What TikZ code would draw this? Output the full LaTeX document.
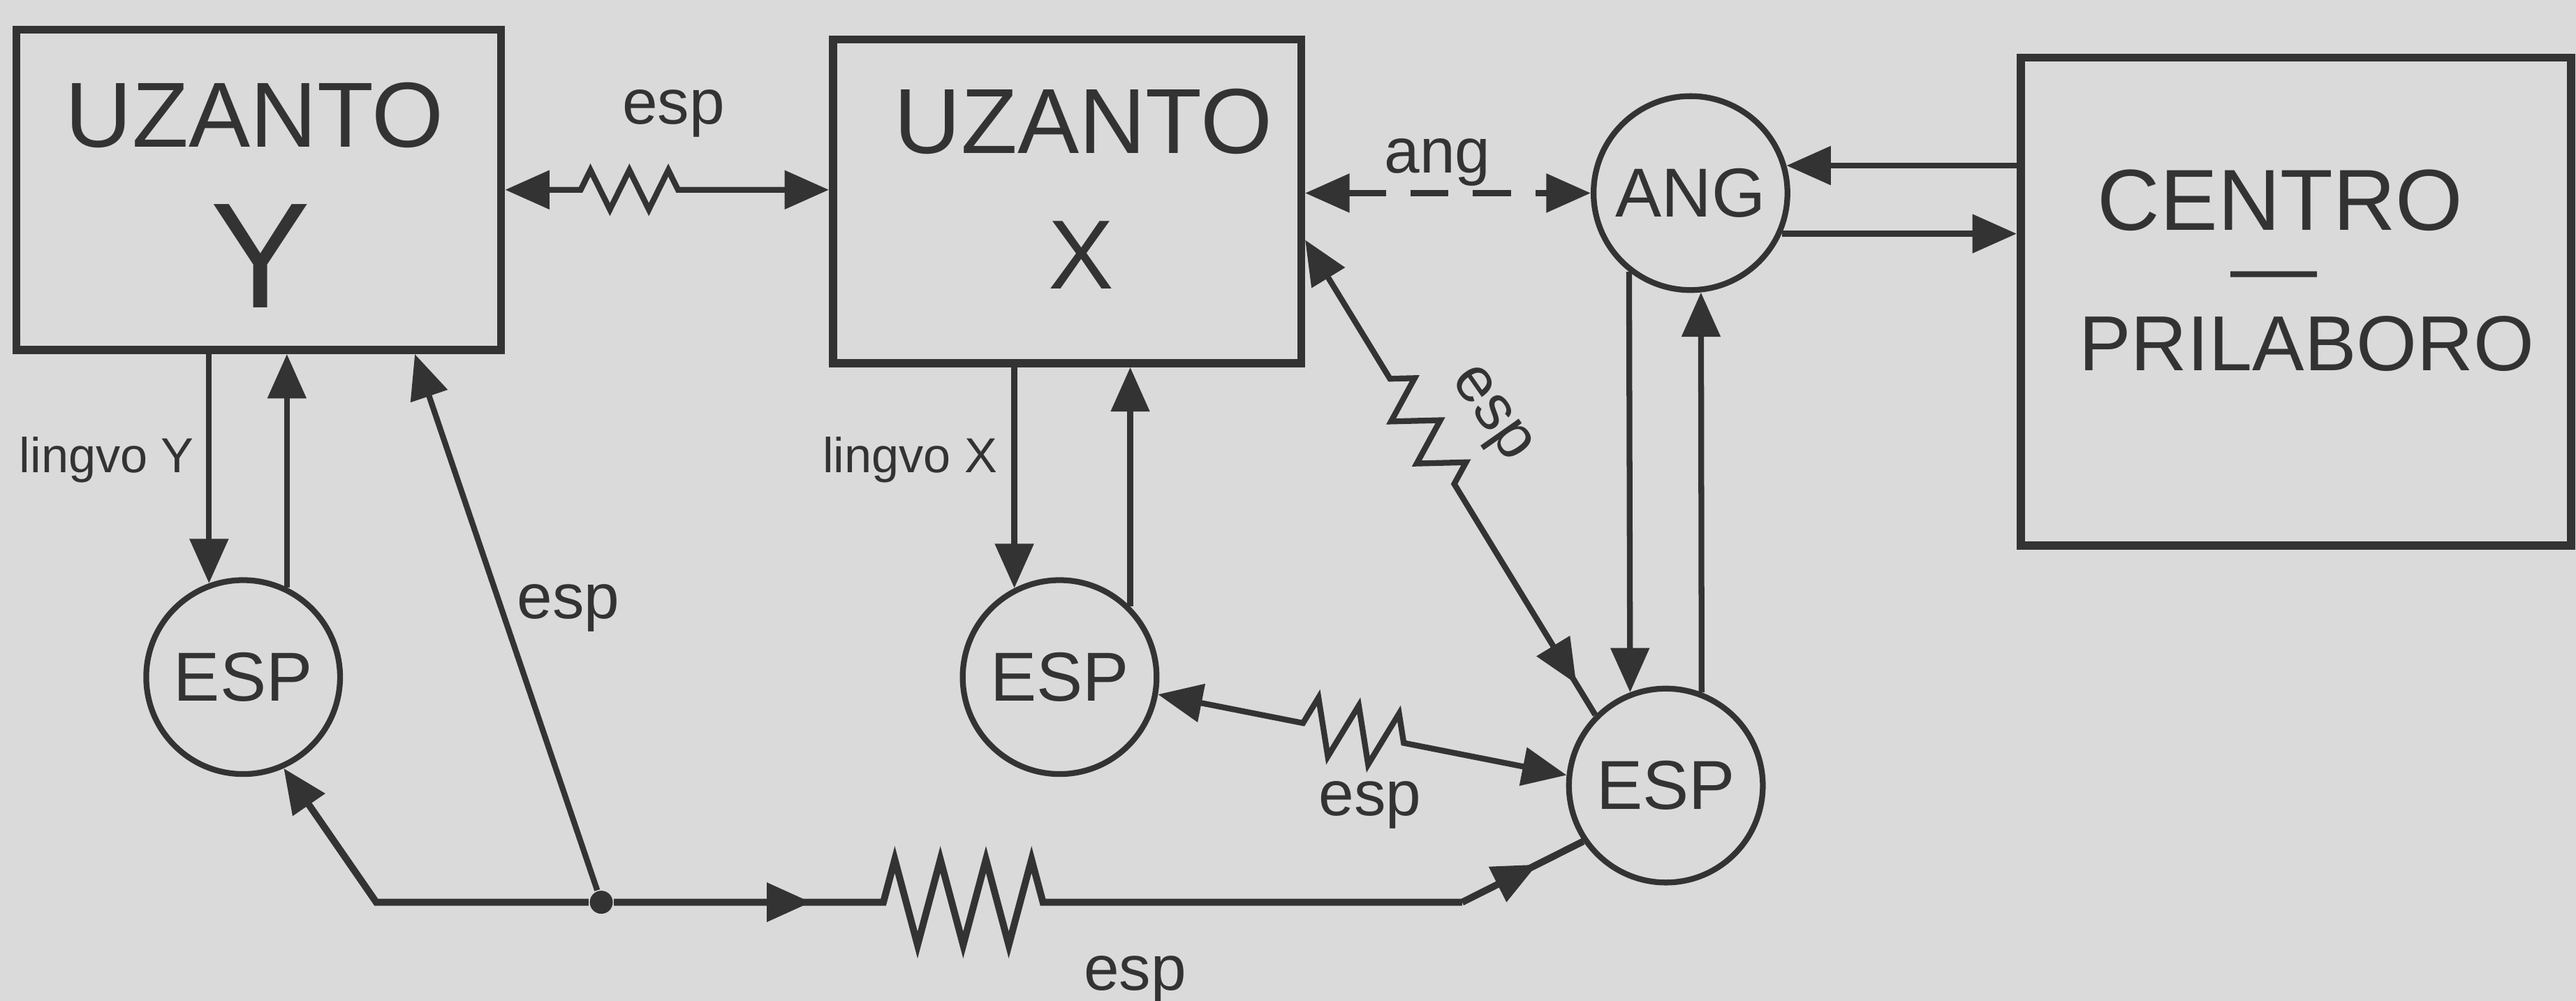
\documentclass[tikz,border=0pt]{standalone}
\usepackage{fontspec}
\setmainfont{Liberation Sans}
\usetikzlibrary{arrows.meta, positioning, decorations.pathmorphing, decorations.markings}

\definecolor{ink}{HTML}{333333}
\definecolor{paper}{HTML}{DADADA}

\begin{document}
\begin{tikzpicture}[
  color=ink,
  >={Triangle[length=2.7mm, width=2.3mm]},
  box/.style={rectangle, draw, line width=1.4pt, inner sep=0pt},
  ring/.style={circle, draw, line width=1pt, minimum size=1.18cm, inner sep=0pt,
               font=\fontsize{12}{14}\selectfont},
  big/.style={font=\fontsize{16}{19}\selectfont, inner sep=1pt},
  tag/.style={font=\fontsize{11}{13}\selectfont, inner sep=1pt},
  dot/.style={circle, fill, inner sep=0pt, minimum size=0.14cm},
  link/.style={line width=1pt},
  flowmark/.style={postaction={decorate, decoration={markings,
                   pre length=0pt, post length=0pt,
                   mark=at position #1 with {\arrow{>}}}}},
  resist/.style args={#1/#2/#3/#4}{decorate, decoration={zigzag,
                   pre length=#1, post length=#2, segment length=#3, amplitude=#4}}
]
% paper
\fill[paper] (0,0) rectangle (15.68,6.09);
\useasboundingbox (0,0) rectangle (15.68,6.09);

% Blocks
\node[box, minimum width=2.95cm, minimum height=1.95cm] (usery) at (1.575,4.935) {};
\node[box, minimum width=2.85cm, minimum height=1.97cm] (userx) at (6.495,4.865) {};
\node[box, minimum width=3.35cm, minimum height=2.97cm] (centro) at (13.975,4.255) {};

\node[big] (usery-name) at (1.55,5.39) {UZANTO};
\node[font=\fontsize{26}{30}\selectfont, inner sep=1pt] (usery-sym) at (1.585,4.53) {Y};
\node[big] (userx-name) at (6.595,5.35) {UZANTO};
\node[font=\fontsize{17}{20}\selectfont, inner sep=1pt] (userx-sym) at (6.58,4.54) {X};
\node[font=\fontsize{15}{18}\selectfont, inner sep=1pt] (centro-a) at (13.88,4.87) {CENTRO};
\node[font=\fontsize{15}{18}\selectfont, inner sep=0pt] (centro-dash) at (13.84,4.36) {\textemdash};
\node[font=\fontsize{13.5}{16}\selectfont, inner sep=1pt] (centro-b) at (14.04,4.00) {PRILABORO};

% Circles
\node[ring] (ang) at (10.29,4.915) {ANG};
\node[ring] (espy) at (1.48,1.97) {ESP};
\node[ring] (espx) at (6.45,1.97) {ESP};
\node[ring] (espc) at (10.14,1.31) {ESP};
\node[dot] (j) at (3.66,0.60) {};
\coordinate (bend) at (8.90,0.60);

% Top row
\draw[link, <->, resist=0.46cm/0.83cm/0.237cm/0.12cm] (usery.east) -- (usery.east -| userx.west);
\draw[link, <->, dash pattern=on 2.3mm off 1.5mm] (ang.west -| userx.east) -- (ang.west);
\draw[link, ->] (ang.16 -| centro.west) -- (ang.16);
\draw[link, ->] (ang.-24) -- (ang.-24 -| centro.west);

% Down to ESP
\draw[link, ->] (espy.110 |- usery.south) -- (espy.110);
\draw[link, ->] (espy.64) -- (espy.64 |- usery.south);
\draw[link, ->] (espx.117 |- userx.south) -- (espx.117);
\draw[link, ->] (espx.45) -- (espx.45 |- userx.south);
\draw[link, ->] (ang.232) -- (espc.111);
\draw[link, ->] (espc.69) -- (ang.276);

% Diagonal and middle springs
\draw[link, <-, resist=0.99cm/1.54cm/0.3cm/0.13cm, flowmark=-0.22cm]
  ([yshift=-0.235cm]userx.east) -- (espc.135);
\draw[link, <->, resist=0.90cm/0.91cm/0.25cm/0.17cm] (espx.-10) -- (espc.174);

% Bottom branch
\draw[link, ->] (j) -- ([xshift=0.95cm]usery.south);
\draw[link, ->, line width=1.2pt] (j) -- ++(-1.37,0) -- (espy.-66);
\draw[link, line width=1.2pt, resist=1.64cm/2.43cm/0.2775cm/0.26cm, flowmark=1.2cm] (j) -- (bend);
\draw[link, line width=1.2pt, flowmark=0.62] (bend) -- (espc.214);

% Labels
\node[tag] (esp-top) at (4.10,5.40) {esp};
\node[tag] (ang-lbl) at (8.75,5.10) {ang};
\node[tag] (esp-left) at (3.46,2.39) {esp};
\node[tag] (esp-mid) at (8.34,1.19) {esp};
\node[tag] (esp-bot) at (6.91,0.13) {esp};
\node[tag, rotate=-55] (esp-diag) at (9.06,3.56) {esp};
\node[tag, font=\fontsize{8.5}{10}\selectfont] (lingvo-y) at (0.65,3.29) {lingvo Y};
\node[tag, font=\fontsize{8.5}{10}\selectfont] (lingvo-x) at (5.54,3.29) {lingvo X};
\end{tikzpicture}
\end{document}
